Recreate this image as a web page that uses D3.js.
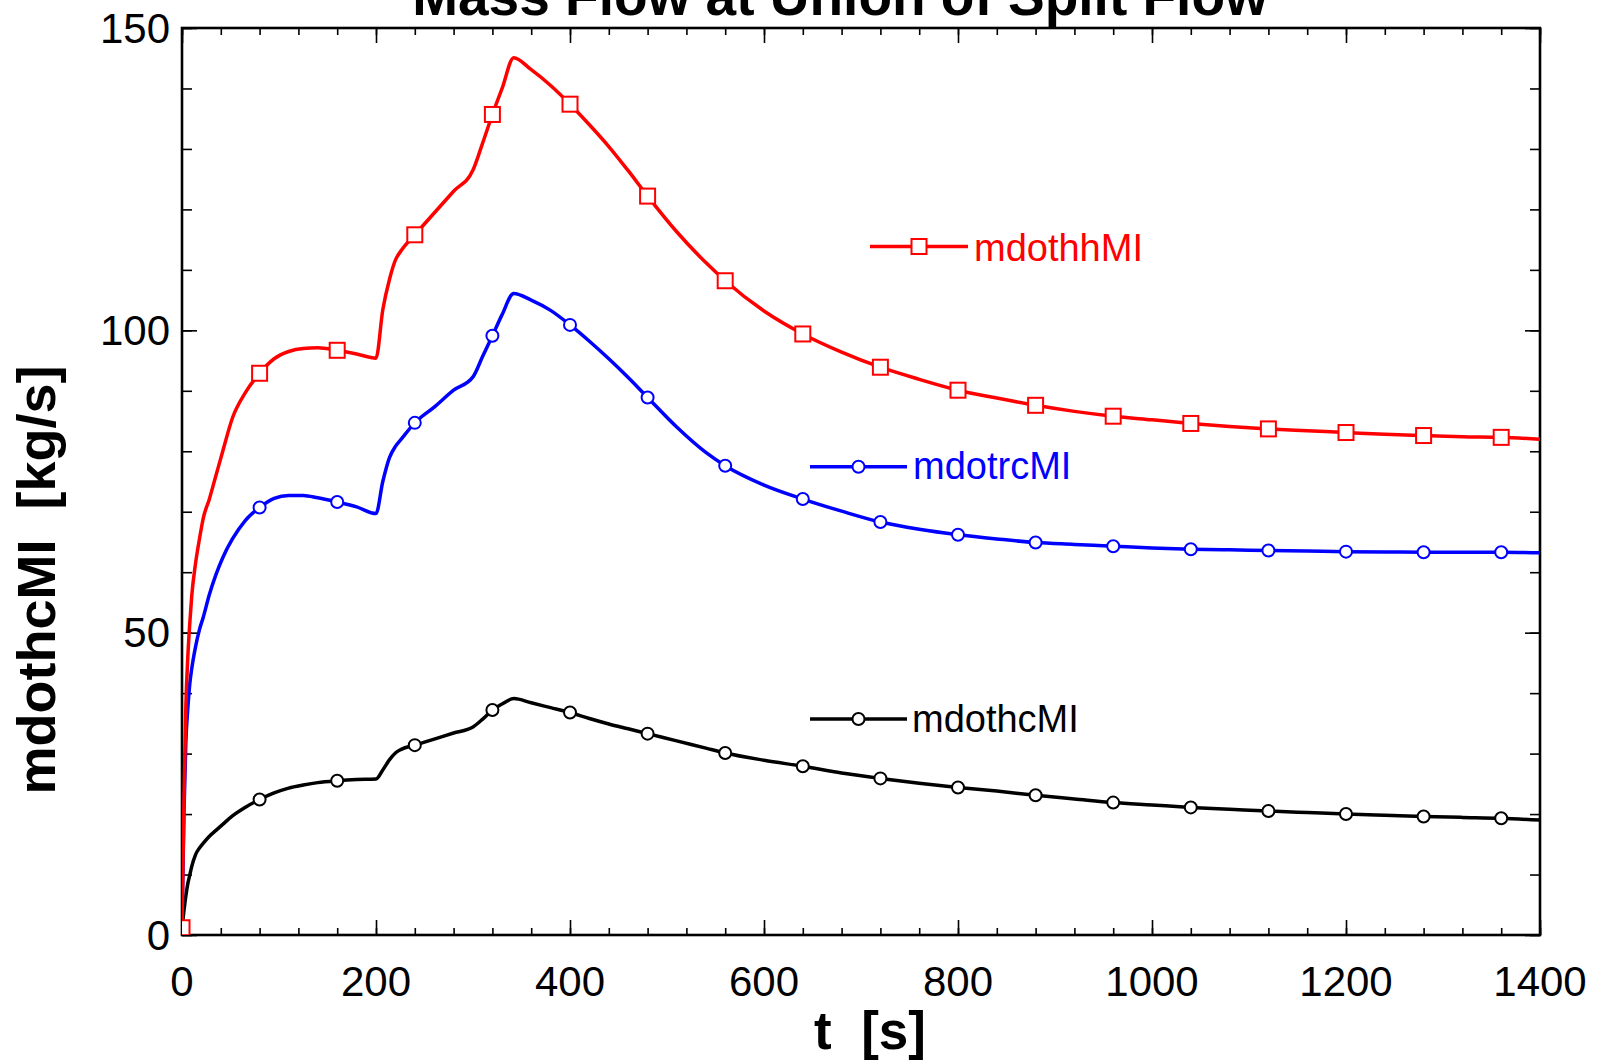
<!DOCTYPE html>
<html>
<head>
<meta charset="utf-8">
<script src="https://cdn.jsdelivr.net/npm/d3@7"></script>
<style>
  html, body { margin: 0; padding: 0; background: #fff; }
  svg { display: block; }
  text { font-family: "Liberation Sans", Arial, Helvetica, sans-serif; }
</style>
</head>
<body>
<svg id="chart" width="1602" height="1063"></svg>
<script>
// ---------------- data ----------------
const titleText = "Mass Flow at Union of Split Flow";
const xAxisTitle = "t\u00A0\u00A0[s]";
const yAxisTitle = "mdothcMI\u00A0\u00A0[kg/s]";
const xTicks = [0, 200, 400, 600, 800, 1000, 1200, 1400];
const yTicks = [0, 50, 100, 150];
const markerEvery = 80;

const times = [0, 2, 4, 6, 8, 10, 14, 18, 22, 28, 35, 42, 52, 65, 80, 95, 110, 125, 140, 160,
  180, 200, 207, 214, 220, 226, 240, 260, 280, 300, 310, 320, 330, 342, 360, 380, 400, 420, 440, 460,
  480, 510, 540, 560, 600, 640, 680, 720, 760, 800, 840, 880, 920, 960, 1000, 1040, 1080, 1120, 1160, 1200,
  1240, 1280, 1320, 1360, 1400];

const mdothhMI = [1.2, 22, 38, 46, 51.5, 56, 61.5, 65.5, 69, 72, 76, 80, 85.5, 89.6, 92.9, 95.3, 96.5, 97.0, 97.1, 96.7,
  96.1, 95.4, 103.4, 108.5, 111.6, 113.2, 115.8, 119.4, 123.0, 126.5, 131, 135.7, 140, 145.1, 143.1, 140.5, 137.4, 134.0, 130.4, 126.4,
  122.2, 116.3, 111.2, 108.2, 103.2, 99.4, 96.4, 93.9, 91.9, 90.1, 88.8, 87.6, 86.6, 85.8, 85.2, 84.6, 84.1, 83.7, 83.4, 83.1,
  82.8, 82.6, 82.4, 82.3, 82.0];

const mdotrcMI = [1.2, 20, 32, 37.5, 41.5, 44, 47.7, 50.5, 52.6, 56.2, 59.6, 62.4, 65.5, 68.5, 70.7, 72.2, 72.7, 72.7, 72.3, 71.6,
  70.8, 69.7, 75, 79, 80.8, 82, 84.7, 87.3, 90.1, 92.3, 95.7, 99.1, 102.6, 106.1, 105.0, 103.3, 100.9, 98.2, 95.3, 92.2,
  88.9, 84.0, 79.8, 77.6, 74.4, 72.1, 70.1, 68.3, 67.1, 66.2, 65.5, 64.9, 64.6, 64.3, 64.0, 63.8, 63.7, 63.6, 63.5, 63.4,
  63.35, 63.3, 63.3, 63.3, 63.2];

const mdothcMI = [1.2, 4, 6.5, 8.5, 9.9, 11.3, 13.3, 14.4, 15.2, 16.3, 17.3, 18.3, 19.7, 21.1, 22.4, 23.5, 24.3, 24.8, 25.2, 25.5,
  25.7, 25.8, 27.3, 29.0, 30.1, 30.7, 31.4, 32.4, 33.4, 34.4, 35.7, 37.2, 38.2, 39.1, 38.4, 37.6, 36.8, 35.8, 34.9, 34.1,
  33.3, 32.1, 30.9, 30.1, 28.9, 27.9, 26.8, 25.9, 25.1, 24.4, 23.8, 23.1, 22.5, 21.9, 21.5, 21.1, 20.8, 20.5, 20.25, 20.0,
  19.8, 19.6, 19.45, 19.3, 19.0];

const seriesNames = ["mdothcMI", "mdotrcMI", "mdothhMI"];
const seriesColors = ["#000000", "#0000FF", "#FF0000"];
const seriesMarkers = ["circle", "circle", "square"];
const seriesValues = [mdothcMI, mdotrcMI, mdothhMI];

// ---------------- layout ----------------
const plot = { left: 182, right: 1540, top: 28, bottom: 935 };

const svg = d3.select("#chart");
const x = d3.scaleLinear().domain([0, 1400]).range([plot.left, plot.right]);
const y = d3.scaleLinear().domain([0, 150]).range([plot.bottom, plot.top]);

svg.append("defs").append("clipPath").attr("id", "plotclip")
  .append("rect").attr("x", plot.left).attr("y", plot.top)
  .attr("width", plot.right - plot.left).attr("height", plot.bottom - plot.top);

// ticks (inward, all four sides)
const xMinor = d3.range(0, 1401, 40);
const yMinor = d3.range(0, 151, 10);
function drawAxis(axisGen, tx, ty) {
  const g = svg.append("g").attr("transform", `translate(${tx},${ty})`).call(axisGen);
  g.select(".domain").remove();
  g.selectAll("line").attr("stroke", "#000").attr("stroke-width", 1.6);
  g.selectAll("text").remove();
  return g;
}
drawAxis(d3.axisTop(x).tickValues(xMinor).tickSize(7), 0, plot.bottom);
drawAxis(d3.axisTop(x).tickValues(xTicks).tickSize(15), 0, plot.bottom);
drawAxis(d3.axisBottom(x).tickValues(xMinor).tickSize(7), 0, plot.top);
drawAxis(d3.axisBottom(x).tickValues(xTicks).tickSize(15), 0, plot.top);
drawAxis(d3.axisRight(y).tickValues(yMinor).tickSize(10), plot.left, 0);
drawAxis(d3.axisRight(y).tickValues(yTicks).tickSize(15), plot.left, 0);
drawAxis(d3.axisLeft(y).tickValues(yMinor).tickSize(10), plot.right, 0);
drawAxis(d3.axisLeft(y).tickValues(yTicks).tickSize(15), plot.right, 0);

// tick labels
svg.append("g").selectAll("text").data(xTicks).join("text")
  .attr("x", d => x(d)).attr("y", 996)
  .attr("text-anchor", "middle").attr("font-size", 42).attr("fill", "#000")
  .text(d => d);
svg.append("g").selectAll("text").data(yTicks).join("text")
  .attr("x", 170).attr("y", d => y(d)).attr("dy", "0.35em")
  .attr("text-anchor", "end").attr("font-size", 42).attr("fill", "#000")
  .text(d => d);

// frame
svg.append("rect").attr("x", plot.left).attr("y", plot.top)
  .attr("width", plot.right - plot.left).attr("height", plot.bottom - plot.top)
  .attr("fill", "none").attr("stroke", "#000").attr("stroke-width", 2.6);

// series
const line = d3.line().x(d => x(d.t)).y(d => y(d.v)).curve(d3.curveMonotoneX);
const gData = svg.append("g").attr("clip-path", "url(#plotclip)");

function drawMarker(g, kind, cx, cy, color) {
  if (kind === "square") {
    g.append("rect").attr("x", cx - 7.5).attr("y", cy - 7.5).attr("width", 15).attr("height", 15)
      .attr("fill", "#fff").attr("stroke", color).attr("stroke-width", 2);
  } else {
    g.append("circle").attr("cx", cx).attr("cy", cy).attr("r", 6)
      .attr("fill", "#fff").attr("stroke", color).attr("stroke-width", 2);
  }
}

seriesValues.forEach((vals, i) => {
  const pts = times.map((t, k) => ({ t: t, v: vals[k] }));
  gData.append("path").datum(pts).attr("d", line)
    .attr("fill", "none").attr("stroke", seriesColors[i]).attr("stroke-width", 3.5)
    .attr("stroke-linejoin", "round");
  pts.filter(p => p.t % markerEvery === 0).forEach(p => {
    drawMarker(gData, seriesMarkers[i], x(p.t), y(p.v), seriesColors[i]);
  });
});

// legend labels (in-plot)
const legendLayout = [
  { x1: 810, x2: 907, y: 719, tx: 912, ty: 732 },
  { x1: 810, x2: 907, y: 466.7, tx: 913, ty: 479 },
  { x1: 870, x2: 968, y: 246.5, tx: 974, ty: 260.5 }
];
seriesNames.forEach((name, i) => {
  const L = legendLayout[i];
  const g = svg.append("g");
  g.append("line").attr("x1", L.x1).attr("x2", L.x2).attr("y1", L.y).attr("y2", L.y)
    .attr("stroke", seriesColors[i]).attr("stroke-width", 3.5);
  drawMarker(g, seriesMarkers[i], (L.x1 + L.x2) / 2, L.y, seriesColors[i]);
  g.append("text").attr("x", L.tx).attr("y", L.ty).attr("font-size", 38)
    .attr("fill", seriesColors[i]).text(name);
});

// titles
svg.append("text").attr("x", 840).attr("y", 15).attr("text-anchor", "middle")
  .attr("font-size", 55).attr("font-weight", "bold").attr("fill", "#000").text(titleText);
svg.append("text").attr("x", 870).attr("y", 1049).attr("text-anchor", "middle")
  .attr("font-size", 53).attr("font-weight", "bold").attr("fill", "#000").text(xAxisTitle);
svg.append("text").attr("transform", "translate(55,580) rotate(-90)").attr("text-anchor", "middle")
  .attr("font-size", 54).attr("font-weight", "bold").attr("fill", "#000").text(yAxisTitle);
</script>
</body>
</html>
